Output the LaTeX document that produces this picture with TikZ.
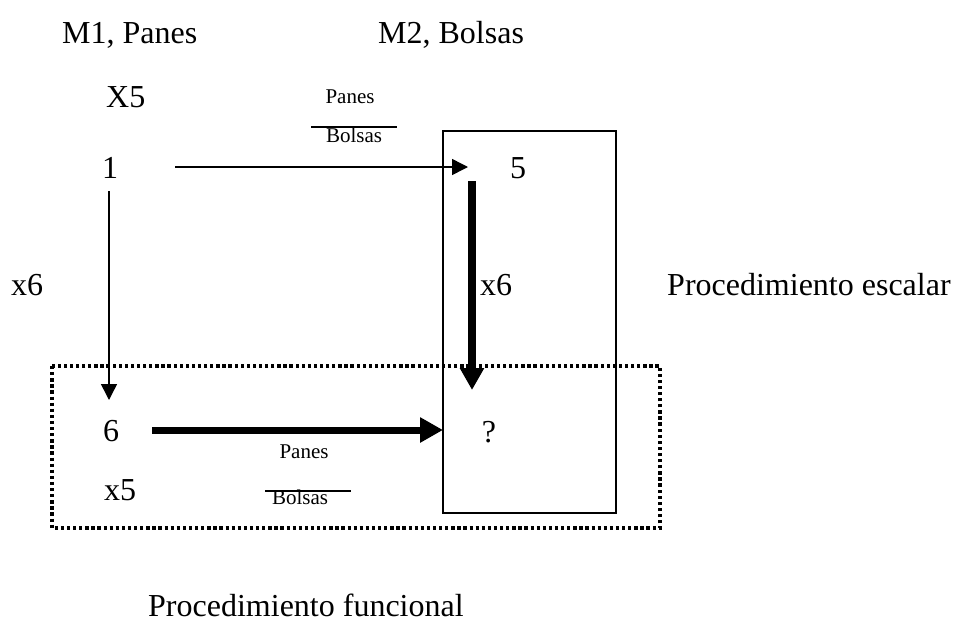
\documentclass[tikz,border=0pt]{standalone}
\usepackage{fontspec}
\setmainfont{Liberation Serif}
\usetikzlibrary{arrows.meta}
\begin{document}
\begin{tikzpicture}[x=1pt,y=-1pt,
  big/.style={inner sep=0pt,font=\fontsize{32}{38}\selectfont},
  small/.style={inner sep=0pt,font=\fontsize{21}{25}\selectfont},
  thinarrow/.style={line width=1.5pt,-{Triangle[length=16pt,width=16pt]}},
  thickhor/.style={line width=7pt,-{Triangle[length=23pt,width=24pt]}},
  thickver/.style={line width=8pt,-{Triangle[length=22pt,width=23pt]}},
  fracline/.style={line width=1.5pt},
  boxline/.style={line width=1.5pt},
  dotbox/.style={line width=3.3pt,dash pattern=on 3.3pt off 2.8pt}]
\useasboundingbox (0,0) rectangle (955,627);
% texts
\node[big,anchor=base west] (m1) at (62,43) {M1, Panes};
\node[big,anchor=base west] (m2) at (378,43) {M2, Bolsas};
\node[big,anchor=base west] (x5t) at (106,107) {X5};
\node[small] (pan1) at (350,97) {Panes};
\node[small] (bol1) at (354,135) {Bolsas};
\coordinate (f1a) at (311,127);
\coordinate (f1b) at (397,127);
\node[big] (one) at (110,168) {1};
\node[big] (five) at (518,168) {5};
\node[big] (x6l) at (27,285) {x6};
\node[big] (x6r) at (496,285) {x6};
\node[big,anchor=west] (esc) at (667,285) {Procedimiento escalar};
\node[big] (six) at (111,431) {6};
\node[big] (q) at (489,432) {?};
\node[small] (pan2) at (304,452) {Panes};
\node[small] (bol2) at (300,497) {Bolsas};
\coordinate (f2a) at (265,491);
\coordinate (f2b) at (351,491);
\node[big] (x5b) at (120,490) {x5};
\node[big,anchor=west] (func) at (148,605) {Procedimiento funcional};
% boxes
\coordinate (bxa) at (443,131);
\coordinate (bxb) at (616,513);
\draw[boxline] (bxa) rectangle (bxb);
\coordinate (dta) at (52,366);
\coordinate (dtb) at (660,528);
\draw[dotbox] (dta) rectangle (dtb);
% fraction lines
\draw[fracline] (f1a) -- (f1b);
\draw[fracline] (f2a) -- (f2b);
% arrows
\coordinate (h1s) at (175,167);
\coordinate (h1e) at (468,167);
\draw[thinarrow] (h1s) -- (h1e);
\coordinate (v1s) at (109,191);
\coordinate (v1e) at (109,400);
\draw[thinarrow] (v1s) -- (v1e);
\coordinate (v2s) at (472,181);
\coordinate (v2e) at (472,390);
\draw[thickver] (v2s) -- (v2e);
\coordinate (h2s) at (152,430);
\coordinate (h2e) at (443,430);
\draw[thickhor] (h2s) -- (h2e);
\end{tikzpicture}
\end{document}
